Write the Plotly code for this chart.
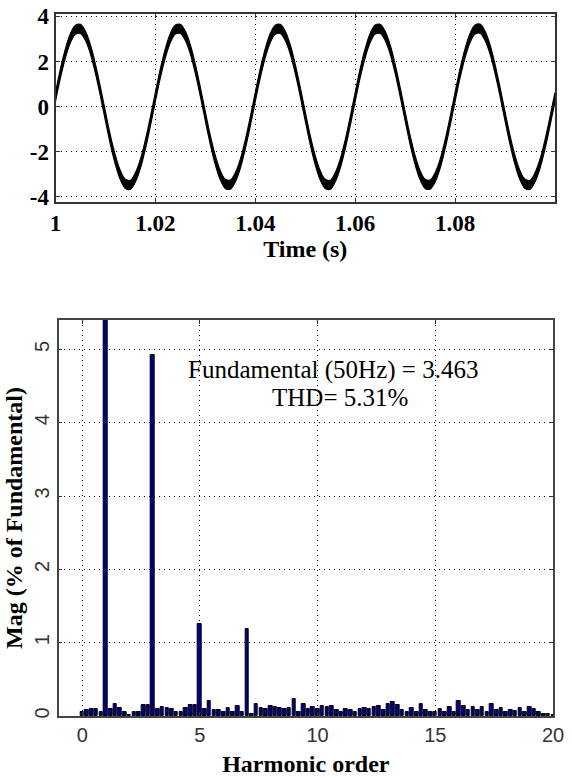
import plotly.graph_objects as go

# ---------------- data: current waveform (1 ms samples) ----------
time_s = [
    1.000, 1.001, 1.002, 1.003, 1.004, 1.005, 1.006, 1.007, 1.008, 1.009,
    1.010, 1.011, 1.012, 1.013, 1.014, 1.015, 1.016, 1.017, 1.018, 1.019,
    1.020, 1.021, 1.022, 1.023, 1.024, 1.025, 1.026, 1.027, 1.028, 1.029,
    1.030, 1.031, 1.032, 1.033, 1.034, 1.035, 1.036, 1.037, 1.038, 1.039,
    1.040, 1.041, 1.042, 1.043, 1.044, 1.045, 1.046, 1.047, 1.048, 1.049,
    1.050, 1.051, 1.052, 1.053, 1.054, 1.055, 1.056, 1.057, 1.058, 1.059,
    1.060, 1.061, 1.062, 1.063, 1.064, 1.065, 1.066, 1.067, 1.068, 1.069,
    1.070, 1.071, 1.072, 1.073, 1.074, 1.075, 1.076, 1.077, 1.078, 1.079,
    1.080, 1.081, 1.082, 1.083, 1.084, 1.085, 1.086, 1.087, 1.088, 1.089,
    1.090, 1.091, 1.092, 1.093, 1.094, 1.095, 1.096, 1.097, 1.098, 1.099,
    1.100,
]
current_a = [
    0.43, 1.48, 2.37, 3.04, 3.40, 3.44, 3.13, 2.53, 1.67, 0.65,
    -0.43, -1.48, -2.37, -3.04, -3.42, -3.46, -3.13, -2.53, -1.67, -0.65,
    0.43, 1.48, 2.37, 3.04, 3.41, 3.44, 3.13, 2.53, 1.67, 0.65,
    -0.43, -1.48, -2.37, -3.04, -3.42, -3.45, -3.13, -2.53, -1.67, -0.65,
    0.43, 1.48, 2.37, 3.04, 3.40, 3.44, 3.13, 2.53, 1.67, 0.65,
    -0.43, -1.48, -2.37, -3.04, -3.42, -3.46, -3.13, -2.53, -1.67, -0.65,
    0.43, 1.48, 2.37, 3.04, 3.41, 3.44, 3.13, 2.53, 1.67, 0.65,
    -0.43, -1.48, -2.37, -3.04, -3.42, -3.45, -3.13, -2.53, -1.67, -0.65,
    0.43, 1.48, 2.37, 3.04, 3.41, 3.45, 3.13, 2.53, 1.67, 0.65,
    -0.43, -1.48, -2.37, -3.04, -3.42, -3.46, -3.13, -2.53, -1.67, -0.65,
    0.43,
]
time_ticks = [1.00, 1.02, 1.04, 1.06, 1.08]
time_tick_labels = ["1", "1.02", "1.04", "1.06", "1.08"]
current_ticks = [-4, -2, 0, 2, 4]
current_tick_labels = ["-4", "-2", "0", "2", "4"]

# ---------------- data: FFT spectrum (10 Hz resolution = 0.2 harmonic order) ----------
harmonic_order = [
    0.0, 0.2, 0.4, 0.6, 0.8, 1.0, 1.2, 1.4, 1.6, 1.8,
    2.0, 2.2, 2.4, 2.6, 2.8, 3.0, 3.2, 3.4, 3.6, 3.8,
    4.0, 4.2, 4.4, 4.6, 4.8, 5.0, 5.2, 5.4, 5.6, 5.8,
    6.0, 6.2, 6.4, 6.6, 6.8, 7.0, 7.2, 7.4, 7.6, 7.8,
    8.0, 8.2, 8.4, 8.6, 8.8, 9.0, 9.2, 9.4, 9.6, 9.8,
    10.0, 10.2, 10.4, 10.6, 10.8, 11.0, 11.2, 11.4, 11.6, 11.8,
    12.0, 12.2, 12.4, 12.6, 12.8, 13.0, 13.2, 13.4, 13.6, 13.8,
    14.0, 14.2, 14.4, 14.6, 14.8, 15.0, 15.2, 15.4, 15.6, 15.8,
    16.0, 16.2, 16.4, 16.6, 16.8, 17.0, 17.2, 17.4, 17.6, 17.8,
    18.0, 18.2, 18.4, 18.6, 18.8, 19.0, 19.2, 19.4, 19.6, 19.8,
    20.0,
]
mag_percent = [
    0.05, 0.08, 0.09, 0.10, 0.05, 100.0, 0.10, 0.17, 0.11, 0.06,
    0.02, 0.05, 0.06, 0.15, 0.15, 4.92, 0.10, 0.12, 0.11, 0.09,
    0.06, 0.06, 0.11, 0.15, 0.15, 1.25, 0.09, 0.20, 0.08, 0.08,
    0.05, 0.11, 0.06, 0.13, 0.06, 1.18, 0.03, 0.16, 0.11, 0.10,
    0.14, 0.12, 0.11, 0.10, 0.11, 0.23, 0.05, 0.16, 0.10, 0.12,
    0.10, 0.14, 0.12, 0.13, 0.08, 0.05, 0.10, 0.08, 0.05, 0.10,
    0.11, 0.10, 0.12, 0.14, 0.08, 0.17, 0.19, 0.15, 0.08, 0.05,
    0.11, 0.05, 0.16, 0.08, 0.05, 0.06, 0.10, 0.05, 0.12, 0.05,
    0.20, 0.14, 0.08, 0.12, 0.08, 0.12, 0.06, 0.17, 0.08, 0.11,
    0.05, 0.08, 0.07, 0.11, 0.05, 0.12, 0.10, 0.05, 0.03, 0.03,
    0.02,
]
harmonic_ticks = [0, 5, 10, 15, 20]
mag_ticks = [0, 1, 2, 3, 4, 5]
fft_text = ["Fundamental (50Hz) = 3.463", "THD= 5.31%"]

# ---------------- style ----------
W, H = 572, 778
NOISE_HW = 0.2  # half thickness of the switching-ripple band
SERIF = "Liberation Serif"
SANS = "Liberation Sans"
GRID_DASH = "1px,4px"

def px_x(p):
    return p / W

def px_y(p):
    return 1 - p / H

upper = [v + NOISE_HW for v in current_a]
lower = [v - NOISE_HW for v in current_a]

fig = go.Figure()
fig.add_trace(go.Scatter(x=time_s, y=lower, mode="lines",
                         line=dict(color="black", width=1.2, shape="spline"),
                         xaxis="x", yaxis="y", showlegend=False, hoverinfo="skip"))
fig.add_trace(go.Scatter(x=time_s, y=upper, mode="lines", fill="tonexty",
                         fillcolor="black",
                         line=dict(color="black", width=1.2, shape="spline"),
                         xaxis="x", yaxis="y", showlegend=False))

fig.add_trace(go.Bar(x=harmonic_order, y=mag_percent, width=0.15,
                     marker=dict(color="#000080", line=dict(color="black", width=1)),
                     xaxis="x2", yaxis="y2", showlegend=False))

serif_bold_tick = dict(family=SERIF, size=23, color="black", weight="bold")
serif_bold_title = dict(family=SERIF, size=24, color="black", weight="bold")
sans_tick = dict(family=SANS, size=20, color="#333333")

common = dict(showgrid=True, gridcolor="black", gridwidth=1, griddash=GRID_DASH,
              zeroline=False, showline=True, mirror="ticks", ticks="inside",
              ticklen=4, tickcolor="#333333", automargin=False)

fig.update_layout(
    template="none",
    width=W, height=H,
    margin=dict(l=0, r=0, t=0, b=0, autoexpand=False),
    paper_bgcolor="white", plot_bgcolor="white",
    bargap=0,
    xaxis=dict(domain=[px_x(55.5), px_x(555)], range=[1.0, 1.1],
               tickvals=time_ticks, ticktext=time_tick_labels,
               tickfont=serif_bold_tick, linecolor="#333333", linewidth=2,
               title=dict(text="Time (s)", font=serif_bold_title, standoff=1),
               anchor="y", **common),
    yaxis=dict(domain=[px_y(201.5), px_y(14)], range=[-4.2, 4.1],
               tickvals=current_ticks, ticktext=current_tick_labels,
               tickfont=serif_bold_tick,
               linecolor="#333333", linewidth=2, anchor="x", **common),
    xaxis2=dict(domain=[px_x(58.7), px_x(553)], range=[-1, 20],
                tickvals=harmonic_ticks, tickfont=sans_tick,
                linecolor="#444444", linewidth=1.5,
                title=dict(text="Harmonic order", font=serif_bold_title, standoff=10),
                anchor="y2", **common),
    yaxis2=dict(domain=[px_y(716), px_y(320)], range=[0, 5.4],
                tickvals=mag_ticks, tickfont=sans_tick, tickangle=-90,
                linecolor="#444444", linewidth=1.5,
                title=dict(text="Mag (% of Fundamental)", font=serif_bold_title, standoff=2),
                anchor="x2", **common),
    annotations=[
        dict(text=fft_text[0], x=px_x(333), y=px_y(370), xref="paper", yref="paper",
             showarrow=False, xanchor="center", yanchor="middle",
             font=dict(family=SERIF, size=25, color="black")),
        dict(text=fft_text[1], x=px_x(340), y=px_y(397), xref="paper", yref="paper",
             showarrow=False, xanchor="center", yanchor="middle",
             font=dict(family=SERIF, size=25, color="black")),
    ],
)

fig.write_html("out.html")
